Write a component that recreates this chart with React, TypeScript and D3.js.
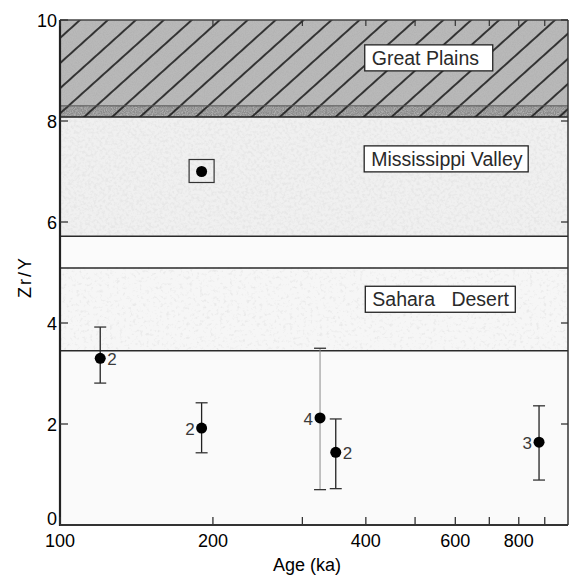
import React from "react";
import * as d3 from "d3";

// ---- data ----
const ages = [120, 190, 325, 349, 877];
const zrY = [3.3, 1.92, 2.12, 1.44, 1.64];
const errLow = [2.81, 1.43, 0.7, 0.72, 0.89];
const errHigh = [3.92, 2.42, 3.5, 2.1, 2.36];
const nSamples = ["2", "2", "4", "2", "3"];
const labelSide = ["right", "left", "left", "right", "left"];
const faintBar = [false, false, true, false, false];

const missAge = [190];
const missVal = [7.0];

const bandNames = ["Great Plains", "Mississippi Valley", "Sahara   Desert"];
const bandLow = [8.08, 5.72, 3.45];
const bandHigh = [10, 8.08, 5.09];
const darkStrip = [8.08, 8.3];
const boxAge = [398, 397, 399];
const boxY = [9.25, 7.25, 4.47];
const boxW = [128, 164, 150];

const xMajor = [100, 200, 400, 600, 800];
const xMinor = [300, 500, 700, 900];
const yTicks = [0, 2, 4, 6, 8, 10];

const W = 570, H = 575;
const L = 60, R = 568, T = 20, B = 525;
const FONT = "'Liberation Sans', Arial, Helvetica, sans-serif";

export default function App() {
  const x = d3.scaleLog().domain([100, 1000]).range([L, R]);
  const y = d3.scaleLinear().domain([0, 10]).range([B, T]);
  const s = 18.7;

  return (
    <svg width={W} height={H} style={{ position: "absolute", left: 0, top: 0, background: "#fff" }} fontFamily={FONT}>
      <defs>
        <pattern id="hatch" patternUnits="userSpaceOnUse" width={10} height={s}
          patternTransform={`translate(80,20) rotate(-42)`}>
          <line x1={-1} x2={11} y1={0} y2={0} stroke="#1e1e1e" strokeWidth={1.7} />
          <line x1={-1} x2={11} y1={s} y2={s} stroke="#1e1e1e" strokeWidth={1.7} />
        </pattern>
        <filter id="grainDark" x="0" y="0" width="1" height="1">
          <feTurbulence type="fractalNoise" baseFrequency="0.9" numOctaves="2" seed="3" />
          <feColorMatrix type="matrix" values="0 0 0 0 0.45  0 0 0 0 0.45  0 0 0 0 0.45  2.2 0 0 0 -0.75" />
        </filter>
        <filter id="speckMiss" x="0" y="0" width="1" height="1">
          <feTurbulence type="fractalNoise" baseFrequency="0.35" numOctaves="3" seed="7" />
          <feColorMatrix type="matrix" values="0 0 0 0 0.8  0 0 0 0 0.8  0 0 0 0 0.8  3.2 0 0 0 -1.35" />
        </filter>
        <filter id="speckSah" x="0" y="0" width="1" height="1">
          <feTurbulence type="fractalNoise" baseFrequency="0.3" numOctaves="3" seed="11" />
          <feColorMatrix type="matrix" values="0 0 0 0 0.82  0 0 0 0 0.82  0 0 0 0 0.82  3.5 0 0 0 -1.9" />
        </filter>
      </defs>

      {/* plot background */}
      <rect x={L} y={T} width={R - L} height={B - T} fill="#fafafa" />

      {/* Mississippi Valley band */}
      <rect x={L} y={y(bandHigh[1])} width={R - L} height={y(bandLow[1]) - y(bandHigh[1])} fill="#f0f0f0" />
      <rect x={L} y={y(bandHigh[1])} width={R - L} height={y(bandLow[1]) - y(bandHigh[1])} fill="#000" filter="url(#speckMiss)" />
      {/* gap between bands */}
      <rect x={L} y={y(bandLow[1])} width={R - L} height={y(bandHigh[2]) - y(bandLow[1])} fill="#fbfbfb" />
      {/* Sahara band */}
      <rect x={L} y={y(bandHigh[2])} width={R - L} height={y(bandLow[2]) - y(bandHigh[2])} fill="#f6f6f6" />
      <rect x={L} y={y(bandHigh[2])} width={R - L} height={y(bandLow[2]) - y(bandHigh[2])} fill="#000" filter="url(#speckSah)" />

      {/* Great Plains band */}
      <rect x={L} y={y(bandHigh[0])} width={R - L} height={y(bandLow[0]) - y(bandHigh[0])} fill="#b9b9b9" />
      <rect x={L} y={y(darkStrip[1])} width={R - L} height={y(darkStrip[0]) - y(darkStrip[1])} fill="#8c8c8c" />
      <rect x={L} y={y(bandHigh[0])} width={R - L} height={y(bandLow[0]) - y(bandHigh[0])} fill="#000" filter="url(#grainDark)" />
      <rect x={L} y={y(bandHigh[0])} width={R - L} height={y(bandLow[0]) - y(bandHigh[0])} fill="url(#hatch)" />
      <line x1={L} x2={R} y1={y(darkStrip[1])} y2={y(darkStrip[1])} stroke="#555" strokeWidth={1} />
      <line x1={L} x2={R} y1={y(bandLow[0])} y2={y(bandLow[0])} stroke="#222" strokeWidth={1.6} />

      {/* boundary lines */}
      {[bandLow[1], bandHigh[2], bandLow[2]].map((v, i) => (
        <line key={i} x1={L} x2={R} y1={y(v)} y2={y(v)} stroke="#2a2a2a" strokeWidth={1.5} />
      ))}

      {/* band label boxes */}
      {bandNames.map((n, i) => {
        const bx = x(boxAge[i]);
        const by = y(boxY[i]);
        return (
          <g key={n}>
            <rect x={bx} y={by - 13} width={boxW[i]} height={26} fill="#fff" stroke="#222" strokeWidth={1.3} />
            <text x={bx + 7} y={by + 7} fontSize={19.5} fill="#2a2a2a" style={{ whiteSpace: "pre" }}>{n}</text>
          </g>
        );
      })}

      {/* Mississippi valley point with square */}
      {missAge.map((a, i) => (
        <g key={i}>
          <rect x={x(a) - 12.5} y={y(missVal[i]) - 12} width={25} height={23} fill="none" stroke="#333" strokeWidth={1.2} />
          <circle cx={x(a)} cy={y(missVal[i])} r={5.5} fill="#000" />
        </g>
      ))}

      {/* data points with error bars */}
      {ages.map((a, i) => {
        const cx = x(a), cy = y(zrY[i]);
        const col = faintBar[i] ? "#8a8a8a" : "#222";
        const sw = faintBar[i] ? 1 : 1.3;
        return (
          <g key={i}>
            <line x1={cx} x2={cx} y1={y(errHigh[i])} y2={y(errLow[i])} stroke={col} strokeWidth={sw} />
            <line x1={cx - 6} x2={cx + 6} y1={y(errHigh[i])} y2={y(errHigh[i])} stroke="#333" strokeWidth={1.3} />
            <line x1={cx - 6} x2={cx + 6} y1={y(errLow[i])} y2={y(errLow[i])} stroke="#333" strokeWidth={1.3} />
            <circle cx={cx} cy={cy} r={5.5} fill="#000" />
            <text x={labelSide[i] === "right" ? cx + 7 : cx - 7} y={cy + 7} fontSize={17}
              textAnchor={labelSide[i] === "right" ? "start" : "end"} fill="#3a3a3a">{nSamples[i]}</text>
          </g>
        );
      })}

      {/* frame */}
      <line x1={L} x2={R} y1={T} y2={T} stroke="#444" strokeWidth={1.3} />
      <line x1={R} x2={R} y1={T} y2={B} stroke="#333" strokeWidth={1.5} />
      <line x1={L} x2={L} y1={T} y2={B + 1} stroke="#222" strokeWidth={2.2} />
      <line x1={L} x2={R} y1={B} y2={B} stroke="#333" strokeWidth={2} />

      {/* x ticks (inward, top and bottom) */}
      {[...xMajor, ...xMinor].map((t) => (
        <g key={t}>
          <line x1={x(t)} x2={x(t)} y1={B} y2={B - 8} stroke="#333" strokeWidth={1.3} />
          <line x1={x(t)} x2={x(t)} y1={T} y2={T + 6} stroke="#333" strokeWidth={1.2} />
        </g>
      ))}
      {xMajor.map((t) => (
        <text key={t} x={x(t)} y={B + 22} fontSize={18} textAnchor="middle" fill="#000">{t}</text>
      ))}

      {/* y ticks */}
      {yTicks.map((t) => (
        <g key={t}>
          <line x1={L} x2={L + 8} y1={y(t)} y2={y(t)} stroke="#333" strokeWidth={1.3} />
          <line x1={R} x2={R - 7} y1={y(t)} y2={y(t)} stroke="#333" strokeWidth={1.3} />
          <text x={57} y={y(t) + (t === 0 ? 0 : 6.5)} fontSize={18} textAnchor="end" fill="#000">{t}</text>
        </g>
      ))}

      {/* axis titles */}
      <text x={307} y={571} fontSize={18} textAnchor="middle" fill="#000">Age (ka)</text>
      <text transform="translate(31,277) rotate(-90)" fontSize={18} textAnchor="middle" letterSpacing={2} fill="#000">Zr/Y</text>
    </svg>
  );
}
